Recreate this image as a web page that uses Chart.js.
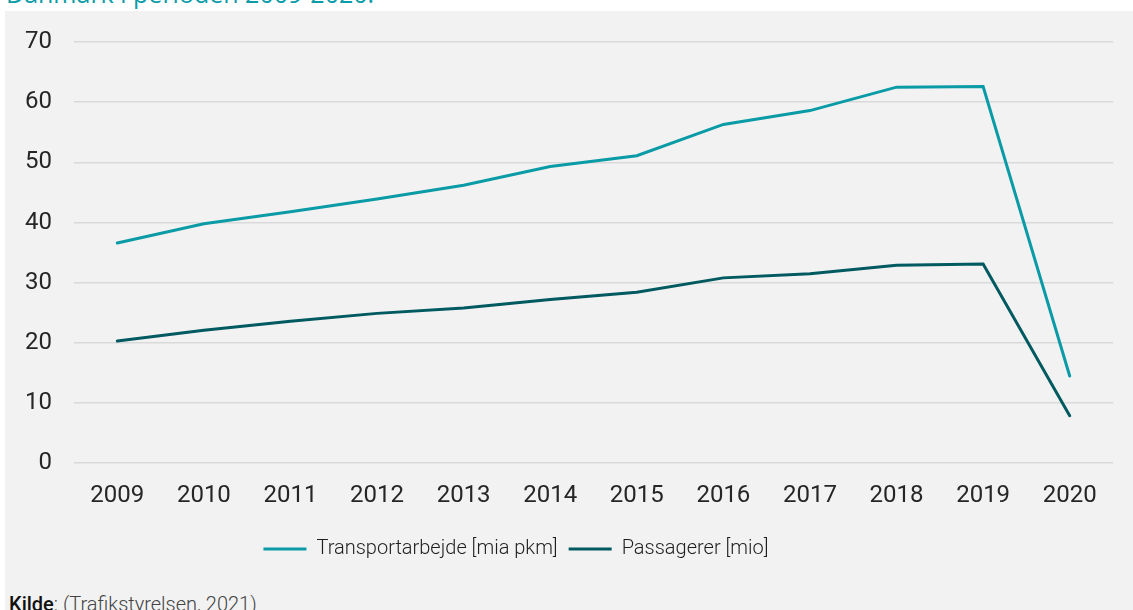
<!DOCTYPE html>
<html>
<head>
<meta charset="utf-8">
<script src="https://cdn.jsdelivr.net/npm/chart.js@4.4.0/dist/chart.umd.min.js"></script>
<style>
  html, body { margin: 0; padding: 0; background: #ffffff; }
  body { width: 1133px; height: 610px; position: relative; overflow: hidden; font-family: Roboto, sans-serif; }
  #title { position: absolute; left: 6px; top: -22px; font-family: "Open Sans", sans-serif; font-size: 25px; line-height: 30px; color: #0a9ca8; white-space: nowrap; }
  #panel { position: absolute; left: 5px; top: 11px; width: 1128px; height: 599px; background: #f2f2f2; }
  #wrap { position: absolute; left: 0; top: 0; width: 1128px; height: 570px; }
  #source { position: absolute; left: 4px; top: 581px; font-size: 20px; color: #444; font-weight: 300; white-space: nowrap; }
  #source b { font-weight: 500; color: #111; }
</style>
</head>
<body>
<div id="title">Danmark i perioden 2009-2020.</div>
<div id="panel">
  <div id="wrap"><canvas id="myChart"></canvas></div>
  <div id="source"><b>Kilde</b>: (Trafikstyrelsen, 2021)</div>
</div>
<script>
// data
var years = ['2009', '2010', '2011', '2012', '2013', '2014', '2015', '2016', '2017', '2018', '2019', '2020'];
var transportarbejde = [36.6, 39.8, 41.8, 43.9, 46.2, 49.3, 51.1, 56.3, 58.6, 62.5, 62.6, 14.5];
var passagerer = [20.3, 22.1, 23.6, 24.9, 25.8, 27.2, 28.4, 30.8, 31.5, 32.9, 33.1, 7.9];
var yTicks = [0, 10, 20, 30, 40, 50, 60, 70];

var tickFont = { family: 'Roboto', size: 24, weight: 400 };

// legend in the original sits a bit left of centre
var legendShift = {
  id: 'legendShift',
  afterLayout: function(chart) {
    chart.legend.left -= 43;
    chart.legend.right -= 43;
  }
};

var ctx = document.getElementById('myChart').getContext('2d');
var myChart = new Chart(ctx, {
  type: 'line',
  data: {
    labels: years,
    datasets: [{
      label: 'Transportarbejde [mia pkm]',
      data: transportarbejde,
      borderColor: '#0a9ba6',
      backgroundColor: '#0a9ba6',
      borderWidth: 3,
      borderCapStyle: 'round',
      pointRadius: 0,
      tension: 0
    }, {
      label: 'Passagerer [mio]',
      data: passagerer,
      borderColor: '#005a60',
      backgroundColor: '#005a60',
      borderWidth: 3,
      borderCapStyle: 'round',
      pointRadius: 0,
      tension: 0
    }]
  },
  plugins: [legendShift],
  options: {
    responsive: true,
    maintainAspectRatio: false,
    animation: false,
    layout: { padding: { top: 9, left: 0, right: 20, bottom: 12 } },
    plugins: {
      tooltip: { enabled: false },
      legend: {
        position: 'bottom',
        labels: {
          usePointStyle: true,
          pointStyle: 'line',
          pointStyleWidth: 43,
          color: '#1e1e1e',
          font: { family: 'Roboto', size: 20, weight: 300 },
          padding: 11
        }
      }
    },
    scales: {
      x: {
        offset: true,
        grid: { display: false, drawTicks: false },
        border: { display: false },
        ticks: { color: '#262626', font: tickFont, padding: 18, maxRotation: 0 }
      },
      y: {
        min: 0,
        max: 70,
        afterBuildTicks: function(axis) {
          axis.ticks = yTicks.map(function(v) { return { value: v }; });
        },
        afterFit: function(axis) {
          axis.width = 69;
          axis.paddingTop = 31;
        },
        grid: { color: '#d9d9d9', lineWidth: 1.5, drawTicks: false },
        border: { display: false },
        ticks: { color: '#262626', font: tickFont, padding: 22 }
      }
    }
  }
});
</script>
</body>
</html>
